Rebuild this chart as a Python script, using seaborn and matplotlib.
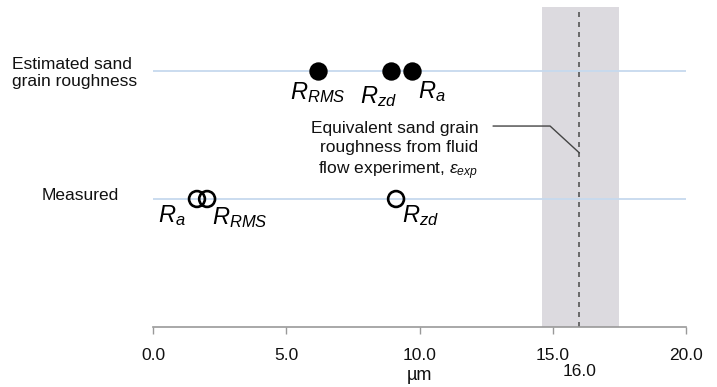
import matplotlib
matplotlib.use("Agg")
import matplotlib.pyplot as plt
import seaborn as sns
import pandas as pd

# Roughness values (µm)
estimated_labels = ["R_{RMS}", "R_{zd}", "R_{a}"]
estimated_values = [6.2, 8.93, 9.72]
measured_labels = ["R_{a}", "R_{RMS}", "R_{zd}"]
measured_values = [1.65, 2.03, 9.12]
row_names = ["Measured", "Estimated sand\ngrain roughness"]
eps_exp = 16.0
eps_band = [14.6, 17.5]
x_ticks = [0.0, 5.0, 10.0, 15.0, 20.0]

sns.set_theme(style="white")
plt.rcParams["font.family"] = ["Liberation Sans", "DejaVu Sans"]
plt.rcParams["mathtext.fontset"] = "custom"
plt.rcParams["mathtext.it"] = "Liberation Sans:italic"
plt.rcParams["mathtext.rm"] = "Liberation Sans"
plt.rcParams["text.color"] = "#111111"
plt.rcParams["xtick.color"] = "#111111"

df = pd.DataFrame({
    "value": estimated_values + measured_values,
    "row": [2] * len(estimated_values) + [1] * len(measured_values),
    "kind": ["Estimated"] * len(estimated_values) + ["Measured"] * len(measured_values),
    "label": estimated_labels + measured_labels,
})

W, H = 717, 387
fig = plt.figure(figsize=(W / 100, H / 100), dpi=100)
ax = fig.add_axes([153 / W, 1 - 327 / H, (686 - 153) / W, 320 / H])

# shaded band and experimental value
ax.axvspan(eps_band[0], eps_band[1], color="#dcdadf", zorder=0, lw=0)
ax.axvline(eps_exp, color="#555555", ls=(0, (3, 3)), lw=1.2, zorder=1)

# row guide lines
for y in (1, 2):
    ax.axhline(y, color="#c6d9ee", lw=1.3, zorder=0.5)

est = df[df.kind == "Estimated"]
mea = df[df.kind == "Measured"]
sns.scatterplot(data=est, x="value", y="row", ax=ax, s=175, color="black",
                edgecolor="black", linewidth=0, zorder=3, legend=False)
sns.scatterplot(data=mea, x="value", y="row", ax=ax, s=130, facecolor="none",
                edgecolor="black", linewidth=1.9, zorder=3, legend=False)

# point labels (offsets in pixels from each marker)
est_offsets = [(0, -22), (-13, -26), (20, -21)]
mea_offsets = [(-25, -17), (33, -19), (24, -17)]
for (v, lab), off in zip(zip(est["value"], est["label"]), est_offsets):
    ax.annotate(f"${lab}$", (v, 2), xytext=off, textcoords="offset pixels",
                ha="center", va="center", fontsize=17, color="black")
for (v, lab), off in zip(zip(mea["value"], mea["label"]), mea_offsets):
    ax.annotate(f"${lab}$", (v, 1), xytext=off, textcoords="offset pixels",
                ha="center", va="center", fontsize=17, color="black")

# experiment annotation with leader line
ax.text(12.2, 1.37, "Equivalent sand grain\nroughness from fluid\nflow experiment, $\\varepsilon_{exp}$",
        ha="right", va="center", fontsize=12.5, linespacing=1.33)
ax.plot([12.76, 14.9, eps_exp], [1.57, 1.57, 1.36], color="#444444", lw=1.0, zorder=2)

# row labels on the left
fig.text(12 / W, 1 - 73 / H, row_names[1], ha="left", va="center",
         fontsize=12.5, linespacing=1.15)
fig.text(80 / W, 1 - 196 / H, row_names[0], ha="center", va="center", fontsize=12.5)

ax.set_xlim(0, 20)
ax.set_ylim(0, 2.5)
ax.set_xticks(x_ticks)
ax.set_xticklabels([f"{t:.1f}" for t in x_ticks], fontsize=12.5)
ax.set_yticks([])
ax.set_xlabel("")
ax.set_ylabel("")
ax.tick_params(axis="x", bottom=True, direction="out", length=5,
               color="#999999", labelcolor="#111111", width=1, pad=10)
for s in ("top", "right", "left"):
    ax.spines[s].set_visible(False)
ax.spines["bottom"].set_color("#999999")
ax.spines["bottom"].set_linewidth(1.2)

fig.text(419 / W, 1 - 376 / H, "µm", ha="center", va="center", fontsize=13)
fig.text(580 / W, 1 - 371 / H, f"{eps_exp:.1f}", ha="center", va="center", fontsize=12.5)

fig.savefig("out.png", dpi=100, facecolor="white")
